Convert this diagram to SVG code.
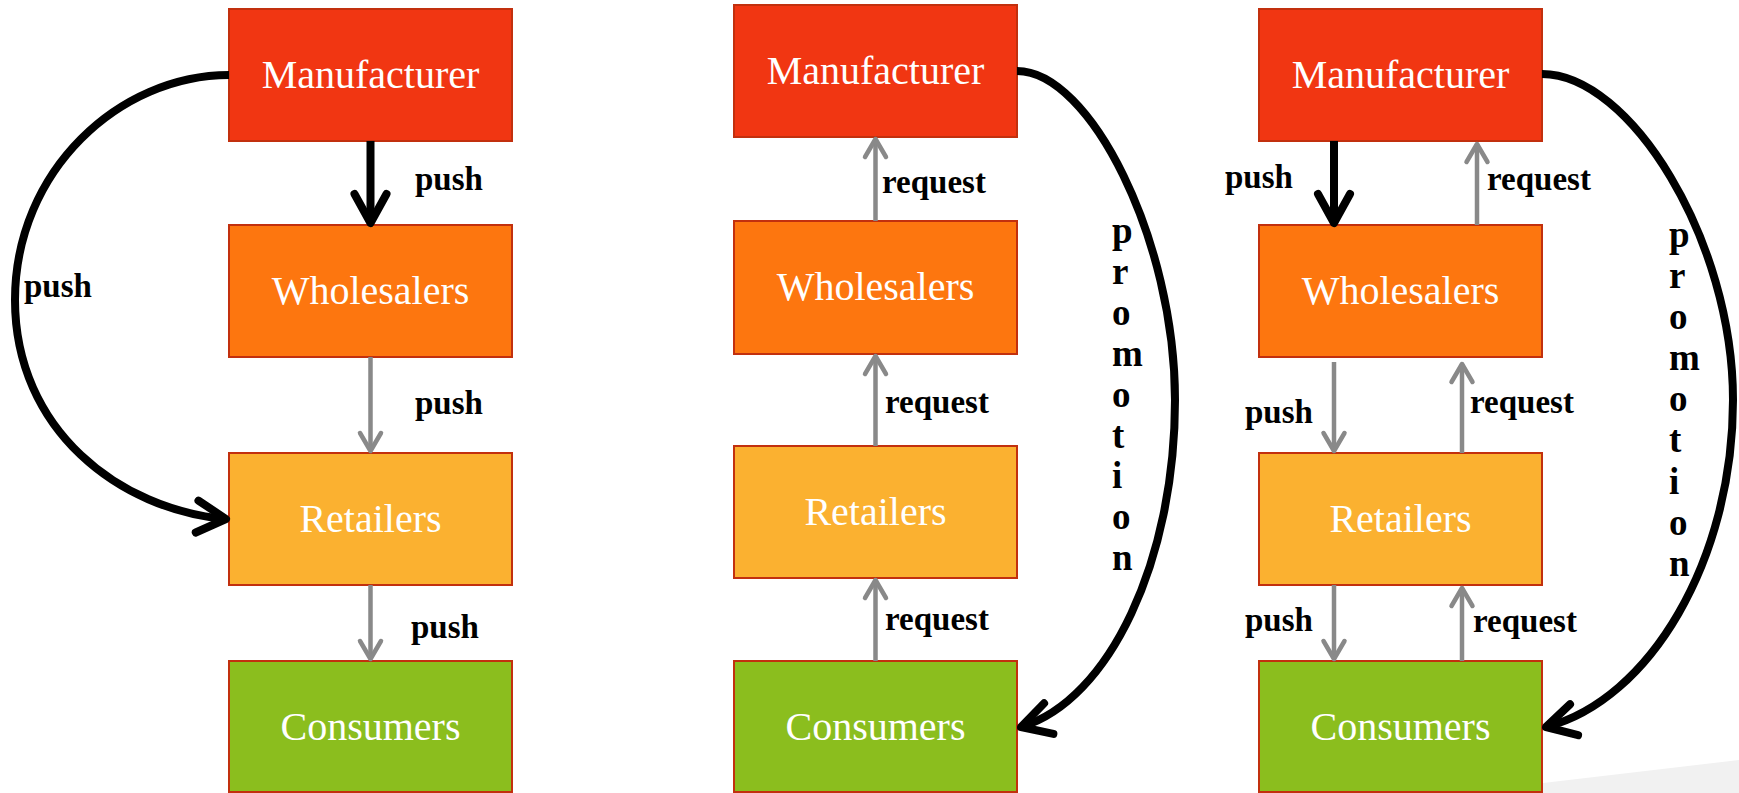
<svg xmlns="http://www.w3.org/2000/svg" width="1739" height="793" viewBox="0 0 1739 793">
<style>
.box{stroke:#C2300E;stroke-width:2}
.mfr{fill:#F13612}
.whl{fill:#FD760F}
.ret{fill:#FBB130}
.con{fill:#8BBE1E}
.nlabel{font-family:"Liberation Serif",serif;font-size:40px;fill:#FFFFFF;text-anchor:middle}
.elabel{font-family:"Liberation Serif",serif;font-size:33px;font-weight:bold;fill:#000000}
.promo{font-family:"Liberation Serif",serif;font-size:37px;font-weight:bold;fill:#000000}
.g{fill:none;stroke:#898989;stroke-width:4.5;marker-end:url(#gh)}
.b{fill:none;stroke:#000000;stroke-width:8;marker-end:url(#bh)}
</style>
<defs>
<marker id="gh" markerUnits="userSpaceOnUse" orient="auto" refX="0" refY="0" overflow="visible" markerWidth="1" markerHeight="1">
<path d="M -18,-10.5 L 0,0 L -18,10.5" fill="none" stroke="#898989" stroke-width="4.5" stroke-linecap="round" stroke-linejoin="round"/>
</marker>
<marker id="bh" markerUnits="userSpaceOnUse" orient="auto" refX="0" refY="0" overflow="visible" markerWidth="1" markerHeight="1">
<path d="M -29,-16 L 0,0 L -29,16" fill="none" stroke="#000000" stroke-width="8" stroke-linecap="round" stroke-linejoin="round"/>
</marker>
</defs>
<polygon points="1458,793 1739,760 1739,793" fill="#F1F1F1"/>

<g id="c1-manufacturer"><rect class="box mfr" x="229" y="9" width="283" height="132"/><text class="nlabel" x="370.5" y="88">Manufacturer</text></g>
<g id="c1-wholesalers"><rect class="box whl" x="229" y="225" width="283" height="132"/><text class="nlabel" x="370.5" y="304">Wholesalers</text></g>
<g id="c1-retailers"><rect class="box ret" x="229" y="453" width="283" height="132"/><text class="nlabel" x="370.5" y="532">Retailers</text></g>
<g id="c1-consumers"><rect class="box con" x="229" y="661" width="283" height="131"/><text class="nlabel" x="370.5" y="740">Consumers</text></g>

<g id="c2-manufacturer"><rect class="box mfr" x="734" y="5" width="283" height="132"/><text class="nlabel" x="875.5" y="84">Manufacturer</text></g>
<g id="c2-wholesalers"><rect class="box whl" x="734" y="221" width="283" height="133"/><text class="nlabel" x="875.5" y="300">Wholesalers</text></g>
<g id="c2-retailers"><rect class="box ret" x="734" y="446" width="283" height="132"/><text class="nlabel" x="875.5" y="525">Retailers</text></g>
<g id="c2-consumers"><rect class="box con" x="734" y="661" width="283" height="131"/><text class="nlabel" x="875.5" y="740">Consumers</text></g>

<g id="c3-manufacturer"><rect class="box mfr" x="1259" y="9" width="283" height="132"/><text class="nlabel" x="1400.5" y="88">Manufacturer</text></g>
<g id="c3-wholesalers"><rect class="box whl" x="1259" y="225" width="283" height="132"/><text class="nlabel" x="1400.5" y="304">Wholesalers</text></g>
<g id="c3-retailers"><rect class="box ret" x="1259" y="453" width="283" height="132"/><text class="nlabel" x="1400.5" y="532">Retailers</text></g>
<g id="c3-consumers"><rect class="box con" x="1259" y="661" width="283" height="131"/><text class="nlabel" x="1400.5" y="740">Consumers</text></g>

<g id="connectors">
<path class="b" d="M 370.5,141 V 223"/>
<path class="g" d="M 370.5,357 V 451"/>
<path class="g" d="M 370.5,585 V 659"/>
<path class="b" d="M 229,75 C 120,75 15,170 15,300 C 15,430 120,510 226,519"/>

<path class="g" d="M 875.5,221 V 139"/>
<path class="g" d="M 875.5,446 V 356"/>
<path class="g" d="M 875.5,661 V 580"/>
<path class="b" d="M 1017,71 C 1090,71 1175,240 1175,400 C 1175,560 1110,700 1021,727"/>

<path class="b" d="M 1334,141 V 223"/>
<path class="g" d="M 1477,225 V 144"/>
<path class="g" d="M 1334,362 V 451"/>
<path class="g" d="M 1462,453 V 364"/>
<path class="g" d="M 1334,585 V 659"/>
<path class="g" d="M 1462,661 V 588"/>
<path class="b" d="M 1542,74 C 1630,74 1733,240 1733,400 C 1733,560 1650,700 1546,727"/>

<text class="elabel" x="415" y="190">push</text>
<text class="elabel" x="24" y="297">push</text>
<text class="elabel" x="415" y="414">push</text>
<text class="elabel" x="411" y="638">push</text>

<text class="elabel" x="882" y="193">request</text>
<text class="elabel" x="885" y="413">request</text>
<text class="elabel" x="885" y="630">request</text>
<text class="promo"><tspan x="1112" y="243">p</tspan><tspan x="1112" y="284">r</tspan><tspan x="1112" y="325">o</tspan><tspan x="1112" y="366">m</tspan><tspan x="1112" y="407">o</tspan><tspan x="1112" y="448">t</tspan><tspan x="1112" y="488">i</tspan><tspan x="1112" y="529">o</tspan><tspan x="1112" y="570">n</tspan></text>

<text class="elabel" x="1225" y="188">push</text>
<text class="elabel" x="1487" y="190">request</text>
<text class="elabel" x="1245" y="423">push</text>
<text class="elabel" x="1470" y="413">request</text>
<text class="elabel" x="1245" y="631">push</text>
<text class="elabel" x="1473" y="632">request</text>
<text class="promo"><tspan x="1669" y="247">p</tspan><tspan x="1669" y="288">r</tspan><tspan x="1669" y="329">o</tspan><tspan x="1669" y="370">m</tspan><tspan x="1669" y="411">o</tspan><tspan x="1669" y="452">t</tspan><tspan x="1669" y="494">i</tspan><tspan x="1669" y="535">o</tspan><tspan x="1669" y="576">n</tspan></text>
</g>
</svg>
